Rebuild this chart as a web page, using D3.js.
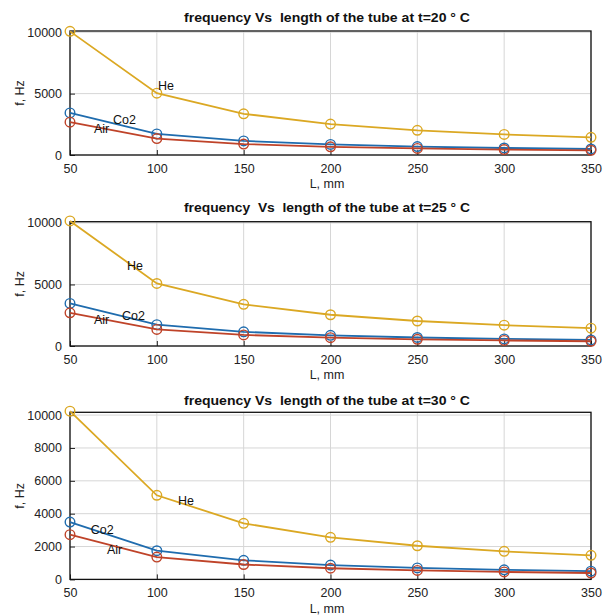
<!DOCTYPE html>
<html>
<head>
<meta charset="utf-8">
<script src="https://cdn.jsdelivr.net/npm/d3@7"></script>
<style>
  html, body { margin: 0; padding: 0; background: #fff; }
  svg { display: block; font-family: "Liberation Sans", Arial, sans-serif; }
</style>
</head>
<body>
<svg id="chart" width="609" height="616"></svg>
<script>
// ---- data ----
const lengths = [50, 100, 150, 200, 250, 300, 350];
const xTicks = [50, 100, 150, 200, 250, 300, 350];
const temperatures = [20, 25, 30];
const titles = [
  "frequency Vs  length of the tube at t=20 \u00b0 C",
  "frequency  Vs  length of the tube at t=25 \u00b0 C",
  "frequency Vs  length of the tube at t=30 \u00b0 C"
];
const seriesNames = ["Co2", "Air", "He"];
// t = 20 °C
const co2_20 = [3430, 1715, 1143, 858, 686, 572, 490];
const air_20 = [2670, 1335, 890, 668, 534, 445, 381];
const he_20  = [10070, 5035, 3357, 2518, 2014, 1678, 1439];
// t = 25 °C
const co2_25 = [3460, 1730, 1153, 865, 692, 577, 494];
const air_25 = [2700, 1350, 900, 675, 540, 450, 386];
const he_25  = [10160, 5080, 3387, 2540, 2032, 1693, 1451];
// t = 30 °C
const co2_30 = [3490, 1745, 1163, 873, 698, 582, 499];
const air_30 = [2720, 1360, 907, 680, 544, 453, 389];
const he_30  = [10240, 5120, 3413, 2560, 2048, 1707, 1463];
// y ticks per panel
const yTicks20 = [0, 5000, 10000];
const yTicks25 = [0, 5000, 10000];
const yTicks30 = [0, 2000, 4000, 6000, 8000, 10000];
// y-axis upper limits per panel
const yMax = [10100, 10100, 10170];
// text annotation positions (data coords) [L, f] for Co2, Air, He
const labelPos20 = [[74.8, 2895], [63.8, 2165], [100.7, 5677]];
const labelPos25 = [[79.9, 2429], [63.8, 2162], [82.8, 6559]];
const labelPos30 = [[61.9, 3049], [71.3, 1787], [112.2, 4774]];

const colors = ["#1f6cae", "#bf4329", "#dba823"];

const panels = [
  { series: [co2_20, air_20, he_20], ticks: yTicks20, labels: labelPos20, top: 31, bottom: 155, titleY: 18 },
  { series: [co2_25, air_25, he_25], ticks: yTicks25, labels: labelPos25, top: 221.7, bottom: 346, titleY: 208 },
  { series: [co2_30, air_30, he_30], ticks: yTicks30, labels: labelPos30, top: 412.3, bottom: 579.4, titleY: 401 }
];

const svg = d3.select("#chart");
const left = 70, right = 591;

panels.forEach((p, i) => {
  const x = d3.scaleLinear().domain([50, 350]).range([left, right]);
  const y = d3.scaleLinear().domain([0, yMax[i]]).range([p.bottom, p.top]);
  const g = svg.append("g");

  // grid
  g.selectAll(".gx").data(xTicks).enter().append("line")
    .attr("x1", d => x(d)).attr("x2", d => x(d))
    .attr("y1", p.top).attr("y2", p.bottom)
    .attr("stroke", "#d6d6d6").attr("stroke-width", 1);
  g.selectAll(".gy").data(p.ticks).enter().append("line")
    .attr("x1", left).attr("x2", right)
    .attr("y1", d => y(d)).attr("y2", d => y(d))
    .attr("stroke", "#d6d6d6").attr("stroke-width", 1);

  // axes
  const xAxis = d3.axisBottom(x).tickValues(xTicks).tickFormat(d3.format("d"))
    .tickSizeInner(-5).tickSizeOuter(0).tickPadding(9);
  const yAxis = d3.axisLeft(y).tickValues(p.ticks).tickFormat(d3.format("d"))
    .tickSizeInner(-5).tickSizeOuter(0).tickPadding(8);
  const gx = g.append("g").attr("transform", `translate(0,${p.bottom})`).call(xAxis);
  const gy = g.append("g").attr("transform", `translate(${left},0)`).call(yAxis);
  [gx, gy].forEach(a => {
    a.select(".domain").remove();
    a.selectAll("line").attr("stroke", "#222");
    a.selectAll("text").attr("font-size", 12.5).attr("fill", "#222")
      .attr("font-family", "'Liberation Sans', Arial, sans-serif");
  });

  // box
  g.append("rect").attr("x", left).attr("y", p.top)
    .attr("width", right - left).attr("height", p.bottom - p.top)
    .attr("fill", "none").attr("stroke", "#111").attr("stroke-width", 1.3);

  // series
  const line = d3.line().x((d, k) => x(lengths[k])).y(d => y(d));
  p.series.forEach((s, j) => {
    g.append("path").datum(s).attr("d", line)
      .attr("fill", "none").attr("stroke", colors[j]).attr("stroke-width", 1.8);
    g.selectAll(null).data(s).enter().append("circle")
      .attr("cx", (d, k) => x(lengths[k])).attr("cy", d => y(d)).attr("r", 4.8)
      .attr("fill", "none").attr("stroke", colors[j]).attr("stroke-width", 1.4);
  });

  // annotations
  p.labels.forEach((pos, j) => {
    g.append("text").attr("x", x(pos[0])).attr("y", y(pos[1]))
      .attr("dy", "0.35em").attr("font-size", 12.5).attr("fill", "#111")
      .text(seriesNames[j]);
  });

  // title
  g.append("text").attr("x", 184).attr("y", p.titleY)
    .attr("dy", "0.35em").attr("text-anchor", "start")
    .attr("font-size", 12.5).attr("font-weight", "bold").attr("fill", "#111")
    .attr("textLength", 286).attr("lengthAdjust", "spacingAndGlyphs")
    .style("white-space", "pre").attr("xml:space", "preserve")
    .text(titles[i]);

  // axis labels
  g.append("text").attr("x", 327).attr("y", p.bottom + 29)
    .attr("dy", "0.35em").attr("text-anchor", "middle")
    .attr("font-size", 12.5).attr("fill", "#222").text("L, mm");
  g.append("text")
    .attr("transform", `translate(20,${(p.top + p.bottom) / 2}) rotate(-90)`)
    .attr("dy", "0.35em").attr("text-anchor", "middle")
    .attr("font-size", 12.5).attr("fill", "#222").text("f, Hz");
});
</script>
</body>
</html>
